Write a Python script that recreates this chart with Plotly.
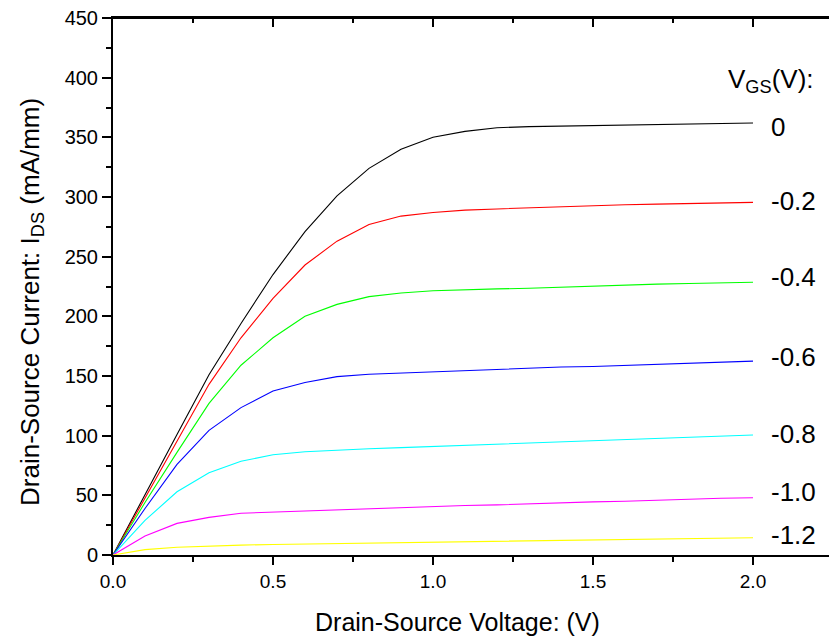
import plotly.graph_objects as go

vds = [0.0, 0.1, 0.2, 0.3, 0.4, 0.5, 0.6, 0.7, 0.8, 0.9, 1.0,
       1.1, 1.2, 1.3, 1.4, 1.5, 1.6, 1.7, 1.8, 1.9, 2.0]

ids_0p0 = [0, 51, 101, 151, 194, 235, 271, 301, 324, 340, 350,
           355, 358, 359, 359.5, 360, 360, 361, 361, 362, 362]
ids_m0p2 = [0, 48, 96, 143, 182, 215, 243, 263, 277, 284, 287,
            289, 290, 291, 292, 293, 293.5, 294, 294.5, 295, 295.5]
ids_m0p4 = [0, 44, 86, 127, 159, 182, 200, 210, 216.5, 219.5, 221.5,
            222.5, 223, 223.5, 224.5, 225, 226, 227, 227.5, 228, 228.5]
ids_m0p6 = [0, 39, 76, 104.5, 123.5, 137.5, 144.5, 149.5, 151.5, 152.5, 154,
            155, 156, 157, 157.5, 158, 159, 160, 161, 162, 162.5]
ids_m0p8 = [0, 29, 53, 69, 78.5, 84, 86.5, 88, 89, 90, 91,
            92, 93, 94, 95, 95.5, 96.5, 97.5, 98.5, 99.5, 100.5]
ids_m1p0 = [0, 16, 26.5, 31.5, 35, 36, 37, 38, 39, 40, 40.5,
            41.5, 42, 43, 43.5, 44.5, 45, 46, 46.5, 47.5, 48]
ids_m1p2 = [0, 4.5, 6.5, 7.5, 8.3, 8.8, 9.2, 9.6, 10.1, 10.5, 10.9,
            11.3, 11.7, 12, 12.3, 12.6, 12.9, 13.3, 13.7, 14.1, 14.5]

vgs_labels = ["0", "-0.2", "-0.4", "-0.6", "-0.8", "-1.0", "-1.2"]
label_y = [359, 297, 233, 166, 101, 53, 17]
series = [ids_0p0, ids_m0p2, ids_m0p4, ids_m0p6, ids_m0p8, ids_m1p0, ids_m1p2]
colors = ["#000000", "#FF0000", "#00FF00", "#0000FF", "#00FFFF", "#FF00FF", "#FFFF00"]

x_ticks = [0.0, 0.5, 1.0, 1.5, 2.0]
x_ticklabels = ["0.0", "0.5", "1.0", "1.5", "2.0"]
y_ticks = list(range(0, 451, 50))

FONT = "Liberation Sans, Arial, sans-serif"
XMAX = 2.2375

fig = go.Figure()
for vals, col, name in zip(series, colors, vgs_labels):
    fig.add_trace(go.Scatter(x=vds, y=vals, mode="lines",
                             line=dict(color=col, width=1.1),
                             name=name, showlegend=False, hoverinfo="skip"))

for lab, yv in zip(vgs_labels, label_y):
    fig.add_annotation(x=2.05, y=yv, xref="x", yref="y", text=lab,
                       showarrow=False, xanchor="left", yanchor="middle",
                       font=dict(family=FONT, size=26, color="black"))

fig.add_annotation(x=1.915, y=398, xref="x", yref="y",
                   text="V<sub>GS</sub>(V):", showarrow=False,
                   xanchor="left", yanchor="middle",
                   font=dict(family=FONT, size=26, color="black"))

fig.add_annotation(x=(457 - 113) / 716, y=(555 - 622) / 537, xref="paper", yref="paper",
                   text="Drain-Source Voltage: (V)", showarrow=False,
                   xanchor="center", yanchor="middle",
                   font=dict(family=FONT, size=25, color="black"))
fig.add_annotation(x=(31 - 113) / 716, y=(555 - 302) / 537, xref="paper", yref="paper",
                   text="Drain-Source Current: I<sub>DS</sub> (mA/mm)",
                   textangle=-90, showarrow=False,
                   xanchor="center", yanchor="middle",
                   font=dict(family=FONT, size=26, color="black"))

# top frame line with inward-pointing ticks at the x-axis tick values
fig.add_shape(type="line", xref="paper", yref="paper", ysizemode="pixel", yanchor=1,
              x0=0, x1=1, y0=0, y1=0,
              line=dict(color="black", width=2), layer="above")
minor_ticks = [v + 0.25 for v in x_ticks if v + 0.25 <= XMAX]
for v in x_ticks[1:]:
    fig.add_shape(type="line", xref="x", yref="paper", ysizemode="pixel", yanchor=1,
                  x0=v, x1=v, y0=0, y1=-9, line=dict(color="black", width=2),
                  layer="above")
for v in minor_ticks:
    fig.add_shape(type="line", xref="x", yref="paper", ysizemode="pixel", yanchor=1,
                  x0=v, x1=v, y0=0, y1=-5, line=dict(color="black", width=2),
                  layer="above")

fig.update_layout(
    width=829, height=644,
    margin=dict(l=113, r=0, t=18, b=89),
    plot_bgcolor="white", paper_bgcolor="white",
    font=dict(family=FONT, color="black"),
    xaxis=dict(range=[0, XMAX], showgrid=False, zeroline=False,
               showline=True, mirror=True, linecolor="black", linewidth=2,
               ticks="outside", ticklen=8, tickwidth=2, tickcolor="black",
               tickvals=x_ticks, ticktext=x_ticklabels,
               tickfont=dict(family=FONT, size=19),
               minor=dict(ticks="outside", ticklen=5, tickwidth=2,
                          tickcolor="black", dtick=0.25, tick0=0, showgrid=False)),
    yaxis=dict(range=[0, 450], showgrid=False, zeroline=False,
               showline=True, linecolor="black", linewidth=2,
               ticks="outside", ticklen=9, tickwidth=2, tickcolor="black",
               tickvals=y_ticks, tickfont=dict(family=FONT, size=20),
               minor=dict(ticks="outside", ticklen=5, tickwidth=2,
                          tickcolor="black", dtick=25, tick0=0, showgrid=False)),
)

# remove the page's default body margin so the figure sits at the window origin
fig.write_html("out.html", config={"displayModeBar": False},
               post_script="document.body.style.margin='0px';"
                           "document.body.style.overflow='hidden';")
